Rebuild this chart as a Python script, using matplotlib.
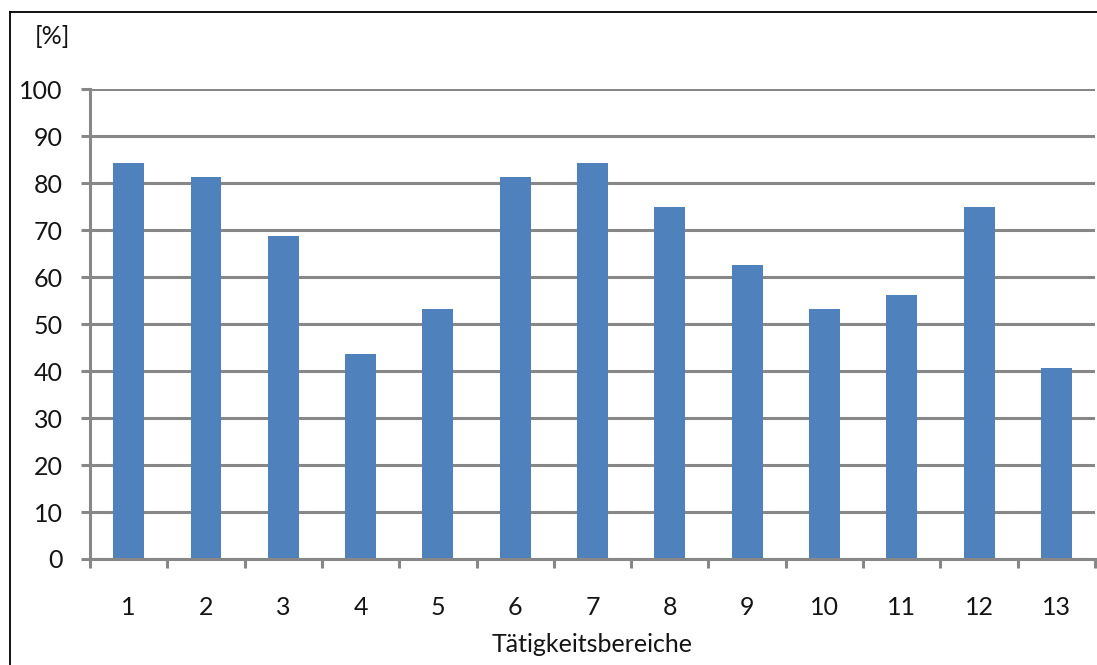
import matplotlib
matplotlib.use("Agg")
import matplotlib.pyplot as plt
from matplotlib.lines import Line2D
import numpy as np

# Anteil je Tätigkeitsbereich in Prozent
bereiche = ["1", "2", "3", "4", "5", "6", "7", "8", "9", "10", "11", "12", "13"]
anteil = [84.375, 81.25, 68.75, 43.75, 53.125, 81.25, 84.375, 75.0, 62.5,
          53.125, 56.25, 75.0, 40.625]
y_ticks = [0, 10, 20, 30, 40, 50, 60, 70, 80, 90, 100]

plt.rcParams["font.family"] = ["Lato", "DejaVu Sans"]

W, H = 1097, 665
fig = plt.figure(figsize=(W / 100, H / 100), dpi=100)
fig.patch.set_facecolor("white")

ax = fig.add_axes([90 / W, 1 - 559 / H, (1095 - 90) / W, (559 - 89.3) / H])

grey = "#878787"
txt = "#141414"
lw = 2.2
fs = 18

x = np.arange(1, len(bereiche) + 1)
ax.bar(x, anteil, width=0.4, color="#4F81BD", zorder=3)

ax.set_xlim(0.5, len(bereiche) + 0.5)
ax.set_ylim(0, 100)

# horizontal gridlines
ax.set_yticks(y_ticks)
ax.yaxis.grid(True, color=grey, linewidth=lw, zorder=1)
ax.set_axisbelow(True)

for s in ["top", "right"]:
    ax.spines[s].set_visible(False)
for s in ["left", "bottom"]:
    ax.spines[s].set_color(grey)
    ax.spines[s].set_linewidth(lw)
    ax.spines[s].set_zorder(4)

ax.tick_params(axis="y", direction="out", length=6.5, width=lw, color=grey,
               labelsize=fs, pad=13, labelcolor=txt)

# category boundaries carry the tick marks, centres carry the labels
ax.set_xticks(np.arange(0.5, len(bereiche) + 1, 1.0))
ax.set_xticklabels([])
ax.set_xticks(x, minor=True)
ax.set_xticklabels(bereiche, minor=True)
ax.tick_params(axis="x", which="major", direction="out", length=6.5,
               width=lw, color=grey)
ax.tick_params(axis="x", which="minor", length=0, labelsize=fs, pad=26.5,
               labelcolor=txt)

ax.set_xlabel("Tätigkeitsbereiche", fontsize=fs, color=txt, labelpad=10.5)
fig.text(52 / W, 1 - 37 / H, "[%]", fontsize=fs, color=txt,
         ha="center", va="center")

# outer frame (top and left edges)
fig.add_artist(Line2D([10 / W, 1.0], [1 - 12 / H, 1 - 12 / H],
                      transform=fig.transFigure, color="black", linewidth=1.3))
fig.add_artist(Line2D([10 / W, 10 / W], [0.0, 1 - 12 / H],
                      transform=fig.transFigure, color="black", linewidth=1.3))

fig.savefig("out.png", dpi=100, facecolor="white")
